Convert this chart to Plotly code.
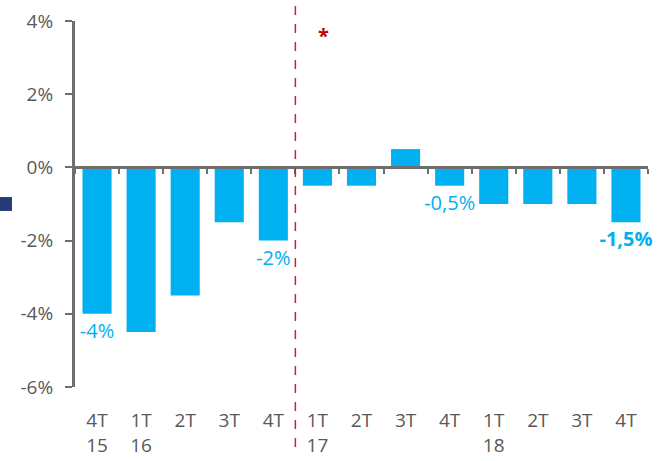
import plotly.graph_objects as go

categories = ["4T<br>15", "1T<br>16", "2T<br>16", "3T<br>16", "4T<br>16",
              "1T<br>17", "2T<br>17", "3T<br>17", "4T<br>17",
              "1T<br>18", "2T<br>18", "3T<br>18", "4T<br>18"]
tick_text = ["4T<br>15", "1T<br>16", "2T", "3T", "4T",
             "1T<br>17", "2T", "3T", "4T",
             "1T<br>18", "2T", "3T", "4T"]
values = [-4.0, -4.5, -3.5, -1.5, -2.0, -0.5, -0.5, 0.5, -0.5, -1.0, -1.0, -1.0, -1.5]
labels = ["-4%", "", "", "", "-2%", "", "", "", "-0,5%", "", "", "", "<b>-1,5%</b>"]
y_ticks = [-6, -4, -2, 0, 2, 4]
y_tick_text = ["-6%", "-4%", "-2%", "0%", "2%", "4%"]

blue = "#00B0F0"
grey = "#595959"
axis_grey = "#6e6e6e"
font_family = "Open Sans"

fig = go.Figure()
fig.add_trace(go.Bar(
    x=categories, y=values, marker=dict(color=blue, line=dict(width=0)),
    text=labels, textposition="outside", cliponaxis=False, constraintext="none",
    textfont=dict(color=blue, size=20, family=font_family),
    xaxis="x", yaxis="y",
))
fig.add_trace(go.Bar(x=categories, y=[None]*len(categories), xaxis="x2", yaxis="y",
                     showlegend=False, hoverinfo="skip"))

ymin, ymax = -6, 4
fig.update_layout(
    width=657, height=461,
    margin=dict(l=75, r=9, t=21, b=74, autoexpand=False),
    plot_bgcolor="white", paper_bgcolor="white",
    showlegend=False, bargap=0.34,
    font=dict(family=font_family, size=19, color=grey),
    xaxis=dict(
        tickmode="array", tickvals=categories, ticktext=tick_text,
        showline=False, ticks="", showgrid=False, zeroline=False, automargin=False,
        ticklabelstandoff=20,
        tickfont=dict(size=19, color=grey),
    ),
    xaxis2=dict(
        overlaying="x", anchor="free",
        position=(0 - ymin) / (ymax - ymin),
        showticklabels=False, showline=True, linecolor=axis_grey, linewidth=3,
        ticks="outside", tickson="boundaries", ticklen=5, tickwidth=2, tickcolor=axis_grey,
        showgrid=False, zeroline=False, automargin=False,
        matches="x",
    ),
    yaxis=dict(
        range=[ymin, ymax], tickmode="array", tickvals=y_ticks, ticktext=y_tick_text,
        showline=True, linecolor=axis_grey, linewidth=3,
        ticks="outside", ticklen=7, tickwidth=2, tickcolor=axis_grey,
        showgrid=False, zeroline=False, automargin=False,
        ticklabelstandoff=8,
        tickfont=dict(size=19, color=grey),
    ),
)

fig.add_shape(type="line", xref="x", yref="paper", x0=4.5, x1=4.5, y0=-0.164, y1=1.044,
              line=dict(color="#C0262D", width=1.5, dash="dash"))
fig.add_annotation(text="<b>*</b>", xref="paper", yref="paper", x=0.433, y=1.003,
                   showarrow=False, font=dict(color="#C00000", size=20, family=font_family))
fig.add_shape(type="rect", xref="paper", yref="paper", x0=-0.135, x1=-0.110, y0=0.481, y1=0.519,
              line=dict(width=0), fillcolor="#263A78")

fig.write_html("out.html", post_script="document.body.style.margin='0';",
               config={"displayModeBar": False})
